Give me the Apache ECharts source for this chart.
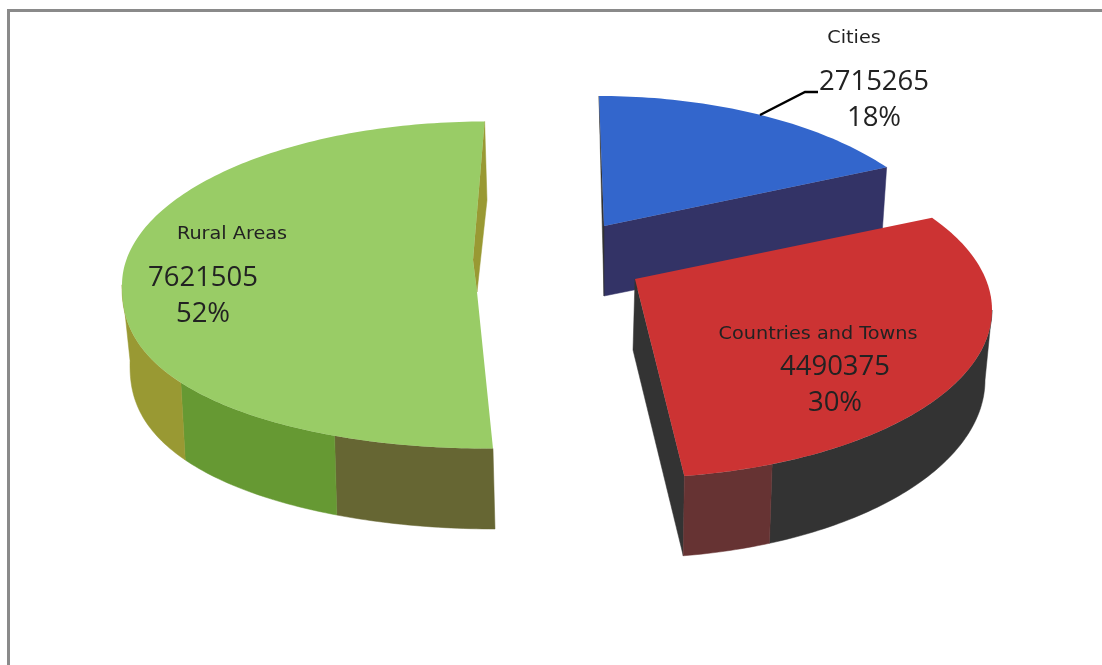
<!DOCTYPE html>
<html>
<head>
<meta charset="utf-8">
<style>html,body{margin:0;padding:0;background:#fff}#c{width:1102px;height:665px}</style>
<script src="https://cdn.jsdelivr.net/npm/echarts@6/dist/echarts.min.js"></script>
</head>
<body>
<div id="c"></div>
<script>
// ---- data ----
var categories = ['Cities', 'Countries and Towns', 'Rural Areas'];
var seriesValues = [2715265, 4490375, 7621505];
var percentLabels = ['18%', '30%', '52%'];

// ---- drawing layout: a hand-fitted projection of the tilted, exploded pie ----
var topColors = ['#3366CC', '#CC3333', '#99CC66'];
var projections = [
  { start: 0, sweepScale: 0.811, top: [599, 272, 358, 176], bottom: [594, 345, 358, 176], bulge: 1, bottomShift: 0,
    apex: [[604, 226]], faces: [
      { at: 'end', color: '#333366', under: [604, 296], useBottom: true },
      { at: 'start', color: '#333333', under: [604, 296], useBottom: false }
    ], walls: [] },
  { start: 56.7, sweepScale: 1.048, top: [627, 310, 365, 168], bottom: [627, 380, 358, 178], bulge: 1, bottomShift: 0,
    apex: [[635, 279]], faces: [
      { at: 'end', color: '#333333', under: [633, 350], useBottom: true }
    ], walls: [[0, 0.874, '#333333'], [0.874, 1, '#663333']] },
  { start: 178.9, sweepScale: 0.9775, top: [486, 285, 364, 163.5], bottom: [495, 364, 365, 165], bulge: 0.85, bottomShift: 1.1,
    apex: [[473, 260], [477, 292]], faces: [
      { at: 'end', color: '#999933', under: [487, 200], useBottom: false }
    ], walls: [[0, 0.142, '#666633'], [0.142, 0.321, '#669933'], [0.321, 0.504, '#999933']] }
];
var labelSpots = [
  { name: [854, 38], value: [874, 82], pct: [874, 118], leader: [[760, 115], [805, 92], [818, 92]] },
  { name: [818, 334], value: [835, 367], pct: [835, 403] },
  { name: [232, 234], value: [203, 278], pct: [203, 314] }
];

var total = seriesValues.reduce(function (a, b) { return a + b; }, 0);

function ringPoint(e, deg, bulge) {
  var r = deg * Math.PI / 180, s = Math.sin(r), c = Math.cos(r);
  var dy = c < 0 ? Math.pow(-c, bulge) : -c;
  return [e[0] + e[2] * s, e[1] + e[3] * dy];
}
function arc(e, a, b, bulge) {
  var pts = [], n = Math.max(2, Math.ceil(Math.abs(b - a)));
  for (var i = 0; i <= n; i++) pts.push(ringPoint(e, a + (b - a) * i / n, bulge));
  return pts;
}

function renderItem(params, api) {
  var i = params.dataIndex;
  var p = projections[i];
  var value = api.value(1);
  var sweep = value / total * 360 * p.sweepScale;
  var endDeg = p.start + sweep;
  var toPx = function (pt) { return api.coord(pt); };
  var poly = function (pts, fill) {
    return { type: 'polygon', shape: { points: pts.map(toPx) }, style: { fill: fill, stroke: fill, lineWidth: 0.5 } };
  };
  var children = [];

  p.faces.forEach(function (f) {
    var deg = f.at === 'end' ? endDeg : p.start;
    var pts = [ringPoint(p.top, deg, p.bulge)].concat(p.apex);
    pts.push(f.under);
    if (f.useBottom) pts.push(ringPoint(p.bottom, deg + p.bottomShift, p.bulge));
    children.push(poly(pts, f.color));
  });

  p.walls.forEach(function (w) {
    var a = p.start + sweep * w[0], b = p.start + sweep * w[1];
    if (a < 90 && b > 90) a = 90;   // the wall's silhouette starts at the rim's widest point
    var pts = arc(p.top, a, b, p.bulge).concat(arc(p.bottom, b + p.bottomShift, a + p.bottomShift, p.bulge));
    children.push(poly(pts, w[2]));
  });

  var topPts = arc(p.top, p.start, endDeg, p.bulge).concat(p.apex);
  children.push({ type: 'polygon', shape: { points: topPts.map(toPx) }, style: { fill: topColors[i] } });

  var spot = labelSpots[i];
  if (spot.leader) {
    children.push({ type: 'polyline', shape: { points: spot.leader.map(toPx) }, style: { fill: 'none', stroke: '#000', lineWidth: 2.4 } });
  }
  var text = function (str, pos, font, sx) {
    var c = toPx(pos);
    return { type: 'text', x: c[0], y: c[1], scaleX: sx, scaleY: 1,
      style: { text: str, x: 0, y: 0, align: 'center', verticalAlign: 'middle', font: font, fill: '#222222' } };
  };
  children.push(text(categories[i], spot.name, '18.5px "DejaVu Sans"', 1.04));
  children.push(text(String(value), spot.value, '27.5px "Open Sans"', 1));
  children.push(text(percentLabels[i], spot.pct, '27.5px "Open Sans"', 1));

  return { type: 'group', children: children };
}

var chart = echarts.init(document.getElementById('c'), null, { renderer: 'canvas' });
chart.setOption({
  animation: false,
  backgroundColor: '#ffffff',
  grid: { left: 0, right: 0, top: 0, bottom: 0 },
  xAxis: { type: 'value', min: 0, max: 1102, show: false },
  yAxis: { type: 'value', min: 0, max: 665, inverse: true, show: false },
  graphic: [
    { type: 'polyline', silent: true, shape: { points: [[8.5, 665], [8.5, 10.5], [1102, 10.5]] }, style: { fill: 'none', stroke: '#8a8a8a', lineWidth: 3 } }
  ],
  series: [{
    type: 'custom',
    coordinateSystem: 'cartesian2d',
    clip: false,
    silent: true,
    encode: { x: 0, y: 1 },
    renderItem: renderItem,
    data: seriesValues.map(function (v, i) { return [i, v]; })
  }]
});
</script>
</body>
</html>
